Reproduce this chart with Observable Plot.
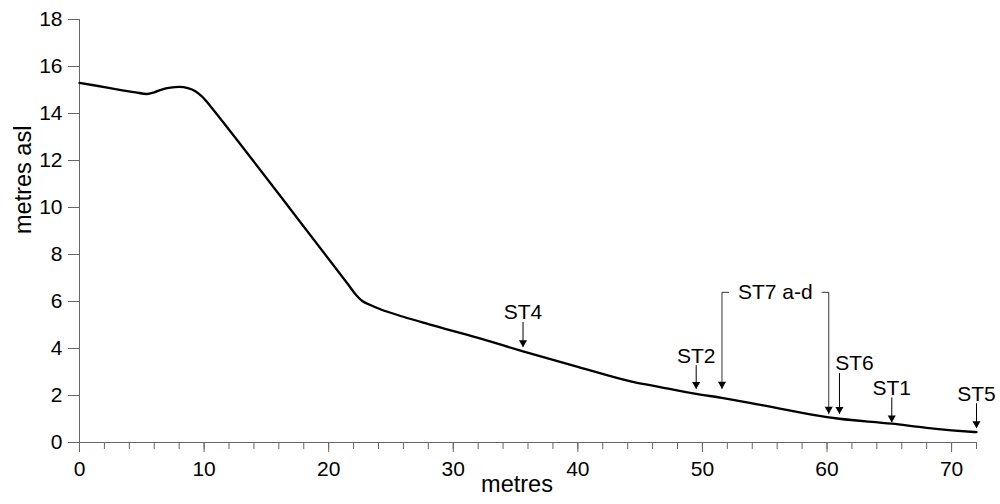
<!DOCTYPE html>
<html><head><meta charset="utf-8">
<script src="https://cdn.jsdelivr.net/npm/d3@7"></script>
<script src="https://cdn.jsdelivr.net/npm/@observablehq/plot@0.6"></script>
<style>body{margin:0;background:#fff}</style>
</head><body><div id="chart"></div>
<script>
// Beach profile: distance (metres) vs elevation (metres asl)
const profileX = [0, 1.5, 3, 4.5, 5.4, 6, 6.6, 7.3, 8, 8.7, 9.3, 9.8, 10.3, 10.9, 16.9, 21.6, 22.2, 22.7, 23.3, 24.2, 26, 28, 32, 35.6, 40, 44.5, 46.6, 49.5, 51.55, 55, 60, 61, 65.2, 68, 70, 72];
const profileY = [15.3, 15.17, 15.03, 14.9, 14.83, 14.9, 15.02, 15.1, 15.13, 15.08, 14.95, 14.74, 14.45, 14.05, 9.95, 6.7, 6.28, 6.02, 5.86, 5.66, 5.35, 5.04, 4.45, 3.88, 3.22, 2.57, 2.36, 2.07, 1.9, 1.57, 1.08, 1.01, 0.8, 0.62, 0.52, 0.44];

// Sampling stations
const stationNames = ["ST4", "ST2", "ST6", "ST1", "ST5"];
const stationX = [35.6, 49.5, 61.0, 65.2, 72.0];
const labelX = [35.6, 49.5, 62.2, 65.2, 72.0];
const labelY = [5.55, 3.69, 3.37, 2.32, 2.06];
const arrowTopY = [5.11, 3.27, 2.93, 1.90, 1.65];
const arrowTipY = [4.05, 2.27, 1.21, 0.85, 0.61];

// Grouped station ST7 a-d (bracket)
const groupName = "ST7 a-d";
const groupX = [51.57, 60.14];
const groupTipY = [2.29, 1.22];
const groupBracketY = 6.39;
const groupStubX = [52.1, 59.6];
const groupLabelX = 55.85;

// Axes
const xMajorTicks = [0, 10, 20, 30, 40, 50, 60, 70];
const xMinorTicks = [0, 2, 4, 6, 8, 10, 12, 14, 16, 18, 20, 22, 24, 26, 28, 30, 32, 34, 36, 38, 40, 42, 44, 46, 48, 50, 52, 54, 56, 58, 60, 62, 64, 66, 68, 70, 72];
const yTicks = [0, 2, 4, 6, 8, 10, 12, 14, 16, 18];
const xLabel = "metres";
const yLabel = "metres asl";

const profile = profileX.map((x, i) => ({x, y: profileY[i]}));
const stations = stationNames.map((name, i) => ({
  name, x: stationX[i], lx: labelX[i], ly: labelY[i], top: arrowTopY[i], tip: arrowTipY[i]
}));
const groupTips = groupX.map((x, i) => ({x, tip: groupTipY[i]}));
const bracketLeft = [
  {x: groupX[0], y: groupTipY[0]}, {x: groupX[0], y: groupBracketY}, {x: groupStubX[0], y: groupBracketY}
];
const bracketRight = [
  {x: groupStubX[1], y: groupBracketY}, {x: groupX[1], y: groupBracketY}, {x: groupX[1], y: groupTipY[1]}
];
const heads = [...stations.map(d => ({x: d.x, tip: d.tip})), ...groupTips];

const axisGray = "#666";
const font = "'Liberation Sans', Arial, Helvetica, sans-serif";

const chart = Plot.plot({
  width: 1000,
  height: 504,
  marginLeft: 79,
  marginRight: 24,
  marginTop: 19,
  marginBottom: 62,
  style: {fontFamily: font, background: "#fff", color: "#000"},
  x: {domain: [0, 72]},
  y: {domain: [0, 18]},
  marks: [
    Plot.axisY({ticks: yTicks, tickSize: 11, tickPadding: 6, fontSize: 21, label: null, color: "#000", stroke: axisGray}),
    Plot.axisX({ticks: xMinorTicks, tickSize: 7, tickFormat: () => "", label: null, stroke: axisGray}),
    Plot.axisX({ticks: xMajorTicks, tickSize: 10, tickPadding: 9, fontSize: 21, label: null, color: "#000", stroke: axisGray}),
    Plot.ruleX([0], {y1: 0, y2: 18, stroke: axisGray}),
    Plot.ruleY([0], {x1: 0, x2: 72, stroke: axisGray}),
    Plot.text([yLabel], {frameAnchor: "left", rotate: -90, dx: -56.4, dy: 3, fontSize: 23.5, fill: "#000"}),
    Plot.text([xLabel], {frameAnchor: "bottom", dx: -11, dy: 49, fontSize: 23.5, fill: "#000"}),
    Plot.line(profile, {x: "x", y: "y", curve: "monotone-x", stroke: "#000", strokeWidth: 2.3}),
    Plot.ruleX(stations, {x: "x", y1: "top", y2: "tip", stroke: "#000", strokeWidth: 1}),
    Plot.line(bracketLeft, {x: "x", y: "y", stroke: "#333", strokeWidth: 1}),
    Plot.line(bracketRight, {x: "x", y: "y", stroke: "#333", strokeWidth: 1}),
    Plot.dot(heads, {x: "x", y: "tip", symbol: "triangle", rotate: 180, r: 3, fill: "#000", stroke: "none", dy: -4.7}),
    Plot.text(stations, {x: "lx", y: "ly", text: "name", fontSize: 21, fill: "#000"}),
    Plot.text([groupName], {x: groupLabelX, y: groupBracketY, fontSize: 21, fill: "#000"})
  ]
});
document.getElementById("chart").appendChild(chart);
</script>
</body></html>
